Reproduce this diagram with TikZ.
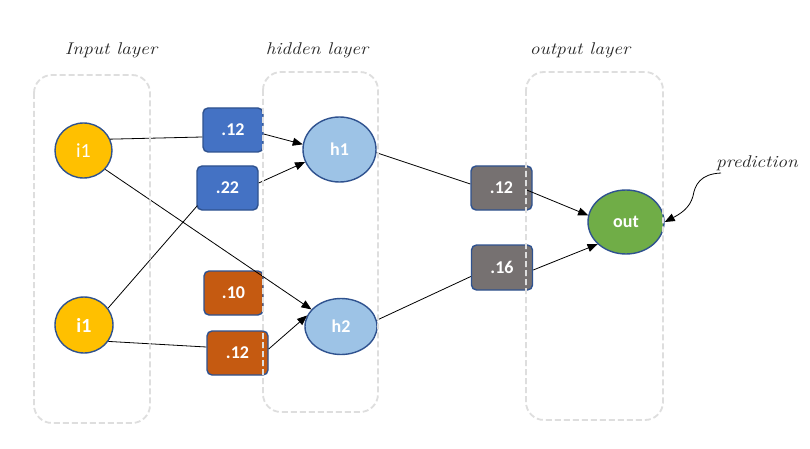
\documentclass[tikz,border=0pt]{standalone}
\usepackage{fontspec}
\newfontfamily\nodefont{Carlito}
\usetikzlibrary{shapes.geometric,arrows.meta}
\definecolor{edgeblue}{HTML}{2F528F}
\definecolor{inyellow}{HTML}{FFC000}
\definecolor{hidblue}{HTML}{9DC3E6}
\definecolor{outgreen}{HTML}{70AD47}
\definecolor{wblue}{HTML}{4472C4}
\definecolor{worange}{HTML}{C55A11}
\definecolor{wgray}{HTML}{767171}
\definecolor{layergray}{HTML}{DEDEDE}
\tikzset{
  neuron/.style={ellipse, draw=edgeblue, line width=1.4pt, inner sep=0pt,
    text=white, font=\nodefont\fontsize{18}{20}\selectfont\bfseries},
  weight/.style={rectangle, rounded corners=5pt, draw=edgeblue, line width=1.4pt,
    minimum width=60pt, minimum height=44pt, inner sep=0pt,
    text=white, font=\nodefont\fontsize{18}{20}\selectfont\bfseries},
  layerbox/.style={draw=layergray, line width=1.8pt, rounded corners=18pt,
    dash pattern=on 6pt off 3pt},
  caption/.style={font=\fontsize{17}{19}\selectfont\itshape, text=black!85, xscale=1.15},
  link/.style={draw=black, line width=0.8pt},
  arrowlink/.style={link, -{Triangle[length=10pt,width=8pt]}}
}
\begin{document}
\begin{tikzpicture}[x=1pt,y=-1pt]
\useasboundingbox[fill=white] (0,0) rectangle (810,449);

% layer captions
\node[caption] (capin)  at (111,50) {Input layer};
\node[caption] (caphid) at (317,50) {hidden layer};
\node[caption] (capout) at (580,50) {output layer};
\node[caption] (pred)   at (757,163) {prediction};

% neurons
\node[neuron, fill=inyellow, minimum width=57pt, minimum height=55pt,
  font=\nodefont\fontsize{20}{22}\selectfont] (i1a) at (83.5,150.5) {i1};
\node[neuron, fill=inyellow, minimum width=58pt, minimum height=56pt,
  font=\nodefont\fontsize{20}{22}\selectfont\bfseries] (i1b) at (84,325) {i1};
\node[neuron, fill=hidblue, minimum width=73pt, minimum height=65pt] (h1) at (339.5,149.5) {h1};
\node[neuron, fill=hidblue, minimum width=72pt, minimum height=56pt] (h2) at (341,326.5) {h2};
\node[neuron, fill=outgreen, minimum width=76pt, minimum height=64pt] (out) at (626,222) {out};

% weights
\node[weight, fill=wblue] (w1) at (233,130) {.12};
\node[weight, fill=wblue, minimum width=61pt] (w2) at (227.5,188) {.22};
\node[weight, fill=worange, minimum width=59pt] (w3) at (233.5,293) {.10};
\node[weight, fill=worange, minimum width=61pt] (w4) at (237.5,353) {.12};
\node[weight, fill=wgray, minimum width=61pt] (w5) at (501.5,188) {.12};
\node[weight, fill=wgray, minimum width=61pt, minimum height=45pt] (w6) at (502,267.5) {.16};

% input -> weights -> hidden
\path[link] (i1a.23) -- ([yshift=-7pt]w1.west);
\path[arrowlink] ([yshift=-4pt]w1.east) -- (h1.172);
\path[link] (i1b.35) -- ([xshift=1pt,yshift=5pt]w2.south west);
\path[arrowlink] ([yshift=5pt]w2.east) -- (h1.200);
\path[arrowlink] (i1a.-41) -- (h2.150);
\path[link] (i1b.-34) -- ([yshift=6pt]w4.west);
\path[arrowlink] ([yshift=4pt]w4.east) -- (h2.162);

% hidden -> weights -> output
\path[link] (h1.-5) -- ([yshift=4pt]w5.west);
\path[arrowlink] ([xshift=-6pt,yshift=-2pt]w5.east) -- (out.170);
\path[link] (h2.10) -- ([yshift=-9pt]w6.west);
\path[arrowlink] ([yshift=-2.5pt]w6.east) -- (out.218);

% prediction pointer
\coordinate (predstart) at (721,173);
\path[arrowlink] (predstart) .. controls (700,174) and (695,185) .. (693,196)
  .. controls (690,208) and (680,214) .. (out.east);

% layer outlines, drawn last so the dashes show over the weights
\draw[layerbox] (34,75) rectangle (150,423);
\draw[layerbox] (263,72) rectangle (378,412);
\draw[layerbox] (526,72) rectangle (663,420);
\end{tikzpicture}
\end{document}
